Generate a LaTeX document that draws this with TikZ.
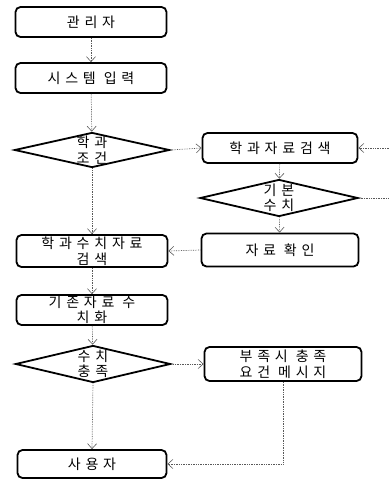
\documentclass[tikz,border=0pt]{standalone}
\usepackage{fontspec}
\newfontfamily\kr[LetterSpace=34]{Noto Sans CJK KR}
\usetikzlibrary{arrows.meta,shapes.geometric}
\begin{document}
\begin{tikzpicture}[x=1pt,y=-1pt,
  box/.style={draw=black,line width=1.8pt,rounded corners=5pt,fill=white,
    align=center,font=\kr\fontsize{14}{15.5}\selectfont,inner sep=0pt},
  dia/.style={draw=black,line width=1.8pt,shape=diamond,aspect=4.3,inner sep=0pt,
    align=center,font=\kr\fontsize{14}{15.5}\selectfont},
  flow/.style={draw=black!65,line width=0.7pt,densely dotted,
    -{Straight Barb[length=5pt,width=9pt,line width=0.6pt]}}]
\useasboundingbox (0,0) rectangle (389,483);
\clip (0,0) rectangle (389,483);
\node[box,minimum width=151pt,minimum height=30pt] (admin) at (91,22) {관리자};
\node[box,minimum width=151pt,minimum height=30pt] (sys) at (91,78) {시스템 입력};
\node[dia,minimum width=155pt,minimum height=35pt] (cond) at (92,150) {학과\\조건};
\node[box,minimum width=155pt,minimum height=30pt] (search) at (280,148) {학과자료검색};
\node[dia,minimum width=158pt,minimum height=37pt] (basic) at (279,198) {기본\\수치};
\node[box,minimum width=157pt,minimum height=33pt] (confirm) at (280,250) {자료 확인};
\node[box,minimum width=151pt,minimum height=32pt] (numsearch) at (92,251) {학과수치자료\\검색};
\node[box,minimum width=151pt,minimum height=30pt] (convert) at (92,310) {기존자료 수\\치화};
\node[dia,minimum width=155pt,minimum height=37pt] (meet) at (93,364) {수치\\충족};
\node[box,minimum width=157pt,minimum height=34pt] (msg) at (283,364) {부족시 충족\\요건 메시지};
\node[box,minimum width=149pt,minimum height=28pt] (user) at (92,464) {사용자};
\coordinate (loopA) at (400,198);
\coordinate (loopB) at (400,148);
\draw[flow] (admin) -- (sys);
\draw[flow] (sys) -- (cond);
\draw[flow] (cond.east) -- (search.west);
\draw[flow] (cond.south) -- (numsearch.north);
\draw[flow] (search) -- (basic);
\draw[flow] (basic) -- (confirm);
\draw[flow] (basic.east) -- (loopA) -- (loopB) -- (search.east);
\draw[flow] (confirm.west) -- (numsearch.east);
\draw[flow] (numsearch) -- (convert);
\draw[flow] (convert) -- (meet);
\draw[flow] (meet.south) -- (user.north);
\draw[flow] (meet.east) -- (msg.west);
\draw[flow] (msg.south) |- (user.east);
\end{tikzpicture}
\end{document}
